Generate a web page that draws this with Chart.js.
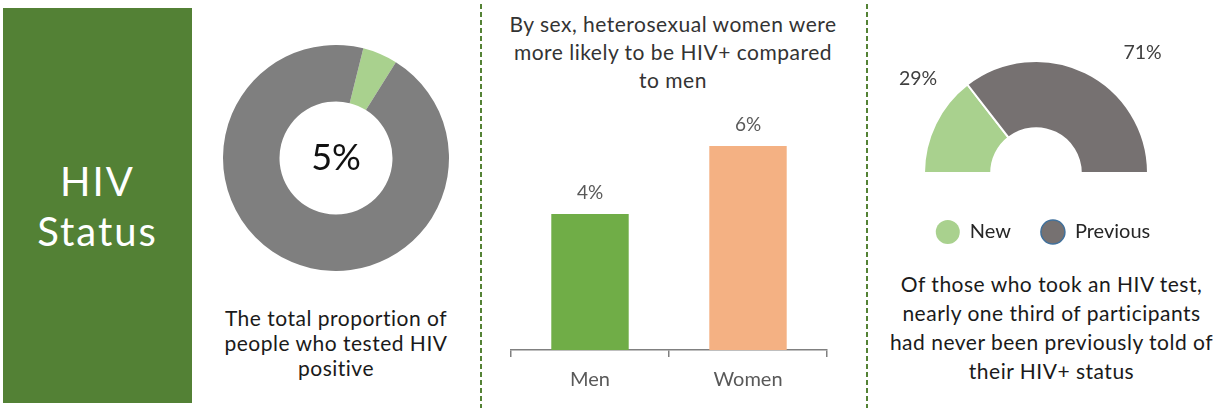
<!DOCTYPE html>
<html lang="en">
<head>
    <meta charset="UTF-8">
    <title>HIV Status</title>
    <style>
        body {
            margin: 0;
            width: 1225px;
            height: 412px;
            background: #fff;
            position: relative;
            overflow: hidden;
            font-family: Lato, "Open Sans", sans-serif;
        }
        .abs { position: absolute; }
        #statusBox {
            left: 3px; top: 8px; width: 189px; height: 395px;
            background: #538135;
            color: #fff;
            font-size: 40px;
            letter-spacing: 2px;
            line-height: 50px;
            display: flex;
            align-items: center;
            justify-content: center;
            text-align: center;
        }
        .divider {
            top: 4px; width: 2px; height: 404px;
            background: repeating-linear-gradient(to bottom, #548235 0 5px, transparent 5px 8px);
        }
        .caption {
            text-align: center;
            color: #1a1a1a;
            font-size: 21px;
            letter-spacing: 0.5px;
        }
    </style>
</head>
<body>
    <div id="statusBox" class="abs">HIV<br>Status</div>

    <canvas id="overallChart" class="abs" width="226" height="226" style="left:223px;top:45px"></canvas>
    <div class="abs caption" style="left:196px;top:305px;width:280px;line-height:25px">
        The total proportion of<br>people who tested HIV<br>positive
    </div>

    <div class="abs divider" style="left:480px"></div>
    <div class="abs caption" style="left:483px;top:10px;width:380px;line-height:28px;color:#333">
        By sex, heterosexual women were<br>more likely to be HIV+ compared<br>to men
    </div>
    <canvas id="sexChart" class="abs" width="384" height="300" style="left:482px;top:103px"></canvas>

    <div class="abs divider" style="left:866px"></div>
    <canvas id="diagChart" class="abs" width="345" height="260" style="left:880px;top:0px"></canvas>
    <div class="abs caption" style="left:878px;top:269px;width:347px;line-height:29px">
        Of those who took an HIV test,<br>nearly one third of participants<br>had never been previously told of<br>their HIV+ status
    </div>

    <script src="https://cdn.jsdelivr.net/npm/chart.js"></script>
    <script>
        // data
        const overallLabels = ["HIV+", "HIV-"]
        const overallValues = [5, 95]

        const sexLabels = ["Men", "Women"]
        const sexValues = [4, 6]

        const diagLabels = ["New", "Previous"]
        const diagValues = [29, 71]

        const FONT = "Lato, 'Open Sans', sans-serif"
        Chart.defaults.font.family = FONT
        Chart.defaults.animation = false

        // text in the middle of the ring
        const centerText = {
            id: "centerText",
            afterDraw(chart) {
                const arc = chart.getDatasetMeta(0).data[0]
                const ctx = chart.ctx
                ctx.save()
                ctx.font = "36px " + FONT
                ctx.fillStyle = "#111"
                ctx.textAlign = "center"
                ctx.textBaseline = "middle"
                ctx.fillText(overallValues[0] + "%", arc.x, arc.y)
                ctx.restore()
            }
        }

        new Chart(document.getElementById("overallChart"), {
            type: "doughnut",
            data: {
                labels: overallLabels,
                datasets: [{
                    data: overallValues,
                    backgroundColor: ["#a9d18e", "#7f7f7f"],
                    borderWidth: 0
                }]
            },
            options: {
                responsive: false,
                cutout: "50%",
                rotation: 14,
                plugins: { legend: { display: false }, tooltip: { enabled: false } }
            },
            plugins: [centerText]
        })

        // value labels over the bars
        const barValues = {
            id: "barValues",
            afterDatasetsDraw(chart) {
                const ctx = chart.ctx
                ctx.save()
                ctx.font = "19px " + FONT
                ctx.fillStyle = "#595959"
                ctx.textAlign = "center"
                ctx.textBaseline = "middle"
                chart.getDatasetMeta(0).data.forEach((bar, i) => {
                    ctx.fillText(sexValues[i] + "%", bar.x, bar.y - 21)
                })
                ctx.restore()
            }
        }

        new Chart(document.getElementById("sexChart"), {
            type: "bar",
            data: {
                labels: sexLabels,
                datasets: [{
                    data: sexValues,
                    backgroundColor: ["#70ad47", "#f4b183"],
                    barPercentage: 0.49,
                    categoryPercentage: 1
                }]
            },
            options: {
                responsive: false,
                layout: { padding: { left: 29, right: 39, top: 9, bottom: 0 } },
                scales: {
                    x: {
                        grid: { drawOnChartArea: false, drawTicks: true, tickLength: 7, color: "#808080", lineWidth: 1.5 },
                        border: { display: true, color: "#808080", width: 1.5 },
                        ticks: { color: "#595959", font: { size: 20 }, padding: 11 }
                    },
                    y: { display: false, min: 0, max: 7 }
                },
                plugins: { legend: { display: false }, tooltip: { enabled: false } }
            },
            plugins: [barValues]
        })

        // where the % labels sit around the half ring
        const diagLabelPos = [{ frac: 0.74, dist: 151 }, { frac: 0.62, dist: 161 }]

        const halfRingExtras = {
            id: "halfRingExtras",
            afterDraw(chart) {
                const ctx = chart.ctx
                const arcs = chart.getDatasetMeta(0).data
                const ds = chart.data.datasets[0]
                ctx.save()
                ctx.font = "19.5px " + FONT
                ctx.fillStyle = "#404040"
                ctx.textAlign = "center"
                ctx.textBaseline = "middle"
                arcs.forEach((arc, i) => {
                    const p = diagLabelPos[i]
                    const a = arc.startAngle + p.frac * (arc.endAngle - arc.startAngle)
                    ctx.fillText(diagValues[i] + "%", arc.x + p.dist * Math.cos(a), arc.y + p.dist * Math.sin(a))
                })

                // legend under the ring
                ctx.font = "20px " + FONT
                ctx.textAlign = "left"
                const r = 12, gapIn = 10, gapOut = 30
                const widths = chart.data.labels.map(l => ctx.measureText(l).width)
                let total = 0
                widths.forEach((w, i) => { total += 2 * r + gapIn + w + (i ? gapOut : 0) })
                let x = arcs[0].x + 7 - total / 2
                const y = 232
                chart.data.labels.forEach((l, i) => {
                    ctx.beginPath()
                    ctx.arc(x + r, y, r, 0, Math.PI * 2)
                    ctx.fillStyle = ds.backgroundColor[i]
                    ctx.fill()
                    if (i === 1) {
                        ctx.strokeStyle = "#41719c"
                        ctx.lineWidth = 1.5
                        ctx.stroke()
                    }
                    ctx.fillStyle = "#262626"
                    ctx.fillText(l, x + 2 * r + gapIn, y)
                    x += 2 * r + gapIn + widths[i] + gapOut
                })
                ctx.restore()
            }
        }

        new Chart(document.getElementById("diagChart"), {
            type: "doughnut",
            data: {
                labels: diagLabels,
                datasets: [{
                    data: diagValues,
                    backgroundColor: ["#a9d18e", "#767171"],
                    borderColor: "#fff",
                    borderWidth: 2
                }]
            },
            options: {
                responsive: false,
                rotation: -90,
                circumference: 180,
                cutout: "40%",
                layout: { padding: { left: 42, right: 75, top: 60, bottom: 86 } },
                plugins: { legend: { display: false }, tooltip: { enabled: false } }
            },
            plugins: [halfRingExtras]
        })
    </script>
</body>
</html>
